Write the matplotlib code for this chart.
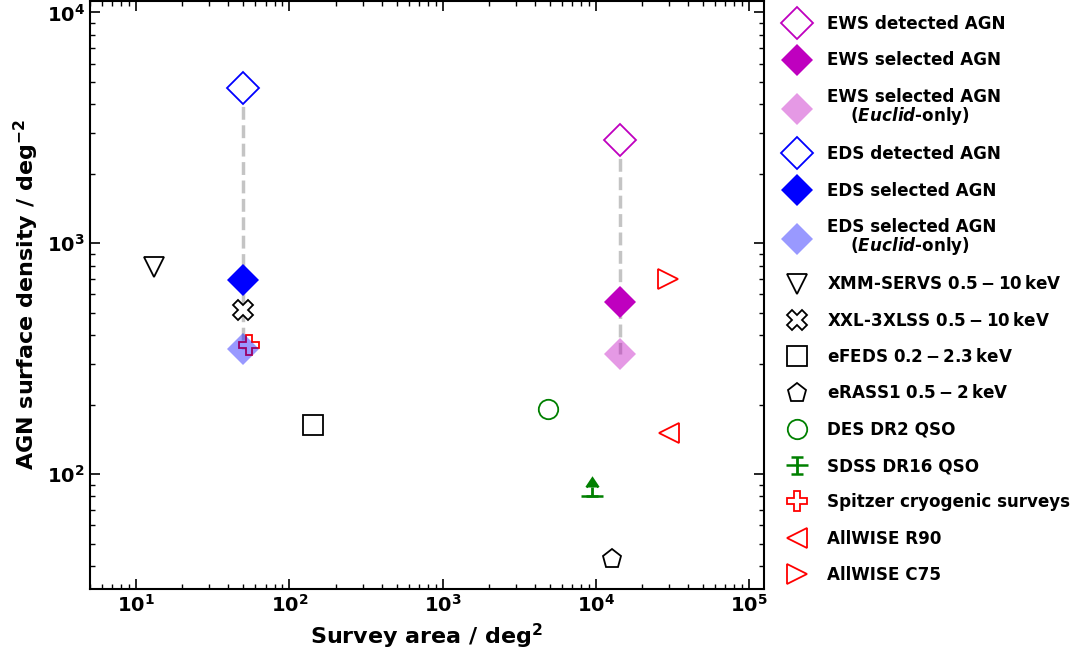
import matplotlib
matplotlib.use("Agg")
import matplotlib.pyplot as plt

plt.rcParams["font.family"] = "DejaVu Sans"
plt.rcParams["font.weight"] = "bold"
plt.rcParams["axes.labelweight"] = "bold"
plt.rcParams["mathtext.fontset"] = "custom"
plt.rcParams["mathtext.rm"] = "DejaVu Sans:bold"
plt.rcParams["mathtext.bf"] = "DejaVu Sans:bold"
plt.rcParams["mathtext.it"] = "DejaVu Sans:italic:bold"
plt.rcParams["mathtext.default"] = "rm"

# Euclid forecasts: area in deg^2, AGN surface density in deg^-2
ews_area = 14400
ews_density = [2800, 556, 330]      # detected, selected, selected (Euclid-only)
eds_area = 50
eds_density = [4700, 695, 347]

# comparison surveys: (area, density)
xmm_servs = [13.1, 790]
xxl_3xlss = [50, 516]
efeds = [142, 163]
erass1 = [12700, 43]
des_dr2 = [4890, 192]
sdss_dr16 = [9400, 80]
sdss_lolim = 8
spitzer = [54.6, 364]
allwise_r90 = [30000, 151]
allwise_c75 = [29500, 698]

fig = plt.figure(figsize=(10.78, 6.59), dpi=100)
ax = fig.add_axes([90 / 1078, 70 / 659, 674 / 1078, 588 / 659])

# connectors between detected and Euclid-only numbers
for area, dens in [(eds_area, eds_density), (ews_area, ews_density)]:
    ax.plot([area, area], [dens[0], dens[2]], ls="--", color="0.77", lw=2.5,
            zorder=1)

handles = []
ms_d = 16.5
handles += ax.plot(ews_area, ews_density[0], "D", ms=ms_d, mfc="white", mec="m",
                   mew=1.3, ls="none", zorder=3, label="EWS detected AGN")
handles += ax.plot(ews_area, ews_density[1], "D", ms=ms_d, color="m", mew=0,
                   ls="none", zorder=3, label="EWS selected AGN")
handles += ax.plot(ews_area, ews_density[2], "D", ms=ms_d, color="m", mew=0,
                   alpha=0.4, ls="none", zorder=5,
                   label="EWS selected AGN\n    ($\\mathit{Euclid}$-only)")
handles += ax.plot(eds_area, eds_density[0], "D", ms=ms_d, mfc="white", mec="b",
                   mew=1.3, ls="none", zorder=3, label="EDS detected AGN")
handles += ax.plot(eds_area, eds_density[1], "D", ms=ms_d, color="b", mew=0,
                   ls="none", zorder=3, label="EDS selected AGN")
handles += ax.plot(eds_area, eds_density[2], "D", ms=ms_d, color="b", mew=0,
                   alpha=0.4, ls="none", zorder=5,
                   label="EDS selected AGN\n    ($\\mathit{Euclid}$-only)")

ms = 14
kw = dict(ms=ms, mfc="white", mew=1.3, ls="none", zorder=3)
handles += ax.plot(*xmm_servs, "v", mec="k", label="XMM-SERVS $0.5-10\\,$keV", **kw)
handles += ax.plot(*xxl_3xlss, "X", mec="k", label="XXL-3XLSS $0.5-10\\,$keV", **kw)
handles += ax.plot(*efeds, "s", mec="k", label="eFEDS $0.2-2.3\\,$keV", **kw)
handles += ax.plot(*erass1, "p", mec="k", label="eRASS1 $0.5-2\\,$keV", **kw)
handles += ax.plot(*des_dr2, "o", mec="green", label="DES DR2 QSO", **kw)
handles.append(ax.errorbar(sdss_dr16[0], sdss_dr16[1], yerr=sdss_lolim,
                           lolims=True, fmt="_", ms=16, mew=1.8, color="green",
                           elinewidth=2, capsize=4.5, capthick=1.8, zorder=3,
                           label="SDSS DR16 QSO"))
handles += ax.plot(*spitzer, "P", mec="red", label="Spitzer cryogenic surveys", **kw)
handles += ax.plot(*allwise_r90, "<", mec="red", label="AllWISE R90", **kw)
handles += ax.plot(*allwise_c75, ">", mec="red", label="AllWISE C75", **kw)

ax.set_xscale("log")
ax.set_yscale("log")
ax.set_xlim(5.0, 1.25e5)
ax.set_ylim(31.8, 1.12e4)
ax.set_xlabel("Survey area / deg$^{2}$", fontsize=16)
ax.set_ylabel("AGN surface density / deg$^{-2}$", fontsize=16)

ax.tick_params(which="both", direction="in", top=True, right=True, labelsize=14)
ax.tick_params(which="major", length=7, width=1.2)
ax.tick_params(which="minor", length=3.5, width=1)
for s in ax.spines.values():
    s.set_linewidth(1.5)

leg = ax.legend(handles=handles, loc="upper left",
                bbox_to_anchor=(787 / 1078, 0.977),
                bbox_transform=fig.transFigure, frameon=False, fontsize=12.1,
                numpoints=1, handlelength=1.2, handletextpad=1.2, borderpad=0,
                borderaxespad=0, labelspacing=1.09)
for t in leg.get_texts():
    t.set_linespacing(0.95)

fig.savefig("out.png", dpi=100)
